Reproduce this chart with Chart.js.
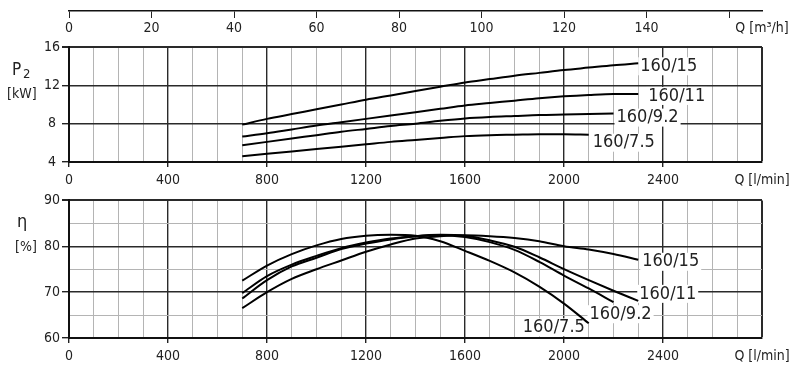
<!DOCTYPE html>
<html>
<head>
<meta charset="utf-8">
<title>160 pump curves</title>
<script src="https://cdn.jsdelivr.net/npm/chart.js@4.4.1/dist/chart.umd.min.js"></script>
<style>
  body { margin: 0; background: #fff; }
  #wrap { position: relative; width: 800px; height: 369px; overflow: hidden; }
  #wrap canvas { position: absolute; left: 0; }
</style>
</head>
<body>
<div id="wrap">
  <canvas id="axisM3" width="800" height="46" style="top:0"></canvas>
  <canvas id="chartP2" width="800" height="190" style="top:0"></canvas>
  <canvas id="chartEta" width="800" height="179" style="top:190px"></canvas>
</div>
<script>
// flow points, l/min
const flow = [700, 800, 900, 1000, 1100, 1200, 1300, 1400, 1500, 1600, 1700, 1800, 1900, 2000, 2100, 2200, 2300];

// shaft power P2, kW
const p2_15  = [7.9, 8.5, 9.0, 9.5, 10.0, 10.5, 10.95, 11.4, 11.85, 12.3, 12.65, 13.0, 13.3, 13.6, 13.85, 14.1, 14.3];
const p2_11  = [6.65, 7.0, 7.4, 7.8, 8.15, 8.5, 8.85, 9.2, 9.55, 9.9, 10.15, 10.4, 10.65, 10.85, 11.0, 11.1, 11.1];
const p2_92  = [5.75, 6.1, 6.45, 6.8, 7.15, 7.45, 7.75, 8.0, 8.3, 8.55, 8.7, 8.8, 8.9, 8.95, 9.0, 9.05, null];
const p2_75  = [4.6, 4.85, 5.1, 5.35, 5.6, 5.85, 6.1, 6.3, 6.5, 6.7, 6.8, 6.85, 6.9, 6.9, 6.85, null, null];

// efficiency, %
const eta_15 = [66.5, 70.0, 72.9, 75.0, 76.9, 78.8, 80.4, 81.7, 82.2, 82.4, 82.2, 81.8, 81.1, 80.0, 79.3, 78.3, 77.05];
const eta_11 = [68.6, 72.6, 75.6, 77.5, 79.4, 80.6, 81.5, 82.2, 82.5, 82.3, 81.3, 79.9, 77.6, 75.0, 72.6, 70.3, 68.1];
const eta_92 = [69.8, 73.5, 76.0, 77.9, 79.6, 80.8, 81.7, 82.2, 82.4, 82.0, 80.9, 79.2, 76.6, 73.6, 70.8, 67.8, null];
const eta_75 = [72.5, 75.8, 78.3, 80.2, 81.6, 82.3, 82.5, 82.3, 81.1, 79.0, 76.8, 74.3, 71.2, 67.5, 63.2, null, null];

const names = ["160/15", "160/11", "160/9.2", "160/7.5"];

// axes
const qMax = 2800;
const m3Ticks = [0, 20, 40, 60, 80, 100, 120, 140, 160, 168];

const FONT = "'Liberation Sans Narrow', 'DejaVu Sans Condensed', 'Liberation Sans', sans-serif";
Chart.defaults.font.family = FONT;
Chart.defaults.font.size = 14;
Chart.defaults.color = "#222";

function pts(vals) {
  return flow.map((q, i) => ({ x: q, y: vals[i] })).filter(p => p.y !== null);
}

function makeSets(list) {
  return list.map((vals, i) => ({
    label: names[i],
    data: pts(vals),
    borderColor: "#000",
    borderWidth: 2,
    pointRadius: 0,
    fill: false,
    cubicInterpolationMode: "monotone"
  }));
}

// label with white box next to the last point of each curve
const curveLabels = {
  id: "curveLabels",
  beforeDatasetsDraw(chart, args, opts) {
    const ctx = chart.ctx;
    ctx.save();
    ctx.font = "18px " + FONT;
    ctx.textBaseline = "middle";
    ctx.textAlign = "left";
    chart.data.datasets.forEach((ds, i) => {
      const meta = chart.getDatasetMeta(i);
      const last = meta.data[meta.data.length - 1];
      const off = opts.offsets[i];
      const x = last.x + off[0];
      const y = last.y + off[1];
      const w = ctx.measureText(ds.label).width;
      ctx.fillStyle = "#fff";
      ctx.fillRect(x - 2, y - 9, w + 4, 18);
      ctx.fillStyle = "#222";
      ctx.fillText(ds.label, x, y);
    });
    ctx.restore();
  }
};

// horizontal y titles on the left
const sideTitles = {
  id: "sideTitles",
  afterDraw(chart, args, opts) {
    const ctx = chart.ctx;
    ctx.save();
    ctx.fillStyle = "#222";
    ctx.textBaseline = "middle";
    ctx.textAlign = "left";
    opts.items.forEach(it => {
      ctx.font = it.size + "px " + FONT;
      ctx.fillText(it.text, it.x, it.y);
    });
    ctx.restore();
  }
};

function xScale() {
  return {
    type: "linear",
    min: 0,
    max: qMax,
    ticks: {
      stepSize: 100,
      autoSkip: false,
      maxRotation: 0,
      padding: 5,
      callback: v => v === qMax ? "Q [l/min]" : (v % 400 === 0 ? v : "")
    },
    grid: {
      color: c => c.tick.value % 400 === 0 ? "#2a2a2a" : "#b4b4b4",
      lineWidth: c => c.tick.value === qMax ? 2 : (c.tick.value % 400 === 0 ? 1.4 : 1),
      tickLength: 5,
      tickColor: c => c.tick.value % 400 === 0 && c.tick.value !== qMax ? "#222" : "rgba(0,0,0,0)"
    },
    border: { color: "#111", width: 2 },
    afterFit: s => { s.height = 28; }
  };
}

function yScale(min, max, step, major) {
  return {
    min: min,
    max: max,
    ticks: {
      stepSize: step,
      padding: 2,
      crossAlign: "center",
      callback: v => v % major === 0 ? v : ""
    },
    grid: {
      color: c => c.tick.value % major === 0 ? "#2a2a2a" : "#b4b4b4",
      lineWidth: c => c.tick.value === max ? 2 : (c.tick.value % major === 0 ? 1.4 : 1),
      tickLength: 7,
      tickColor: c => c.tick.value % major === 0 ? "#222" : "rgba(0,0,0,0)"
    },
    border: { color: "#111", width: 2 },
    afterFit: s => { s.width = 69; }
  };
}

// top m3/h scale
new Chart(document.getElementById("axisM3"), {
  type: "line",
  data: { datasets: [] },
  options: {
    responsive: false,
    animation: false,
    layout: { padding: { top: 10, left: 69, right: 38, bottom: 0 } },
    plugins: { legend: { display: false }, tooltip: { enabled: false } },
    scales: {
      x: {
        type: "linear",
        position: "bottom",
        min: 0,
        max: 168,
        afterBuildTicks: s => { s.ticks = m3Ticks.map(v => ({ value: v })); },
        ticks: {
          autoSkip: false,
          maxRotation: 0,
          padding: 2,
          callback: v => v === 168 ? "Q [m³/h]" : (v === 160 ? "" : v)
        },
        grid: {
          drawOnChartArea: false,
          tickLength: 7,
          tickColor: c => c.tick.value === 168 ? "rgba(0,0,0,0)" : "#222"
        },
        border: { color: "#111", width: 1.5 },
        afterFit: s => { s.height = 35; }
      },
      y: { display: false }
    }
  }
});

// P2 chart
new Chart(document.getElementById("chartP2"), {
  type: "line",
  data: { datasets: makeSets([p2_15, p2_11, p2_92, p2_75]) },
  options: {
    responsive: false,
    animation: false,
    layout: { padding: { top: 47, left: 0, right: 38, bottom: 0 } },
    plugins: {
      legend: { display: false },
      tooltip: { enabled: false },
      curveLabels: { offsets: [[2, 3], [10, 2], [3, 4], [4, 8]] },
      sideTitles: { items: [
        { text: "P", x: 12, y: 71, size: 17 },
        { text: "2", x: 23, y: 75, size: 13 },
        { text: "[kW]", x: 7, y: 94, size: 14 }
      ] }
    },
    scales: {
      x: xScale(),
      y: yScale(4, 16, 2, 4)
    }
  },
  plugins: [curveLabels, sideTitles]
});

// efficiency chart
new Chart(document.getElementById("chartEta"), {
  type: "line",
  data: { datasets: makeSets([eta_15, eta_11, eta_92, eta_75]) },
  options: {
    responsive: false,
    animation: false,
    layout: { padding: { top: 9, left: 0, right: 38, bottom: 3 } },
    plugins: {
      legend: { display: false },
      tooltip: { enabled: false },
      curveLabels: { offsets: [[4, 2], [1, -7], [-24, 12], [-66, 4]] },
      sideTitles: { items: [
        { text: "η", x: 17, y: 32, size: 18 },
        { text: "[%]", x: 15, y: 57, size: 14 }
      ] }
    },
    scales: {
      x: xScale(),
      y: yScale(60, 90, 5, 10)
    }
  },
  plugins: [curveLabels, sideTitles]
});
</script>
</body>
</html>
